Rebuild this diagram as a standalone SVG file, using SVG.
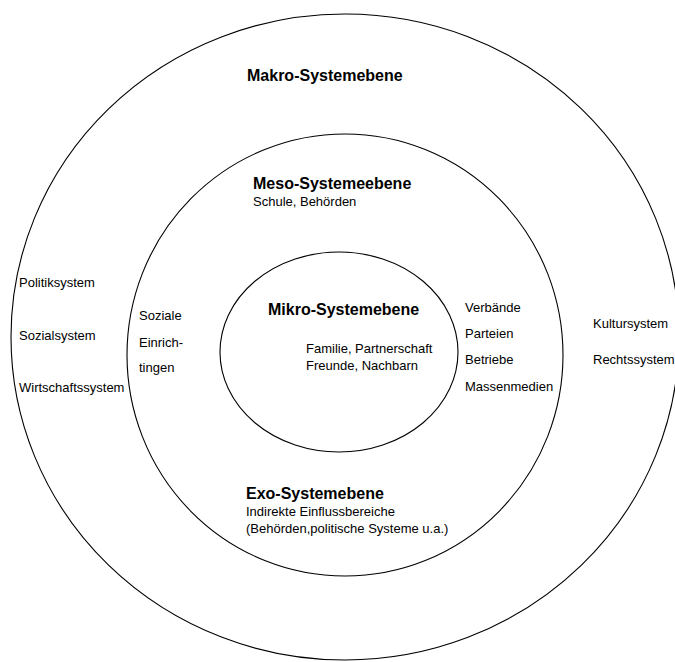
<svg xmlns="http://www.w3.org/2000/svg" width="675" height="662" viewBox="0 0 675 662">
<style>
.ring{fill:none;stroke:#000;stroke-width:1.1}
text{font-family:"Liberation Sans",Arial,sans-serif;fill:#000}
.h{font-weight:bold;font-size:16px}
.t{font-size:13px}
</style>
<rect width="675" height="662" fill="#fff"/>
<g id="makro">
<ellipse class="ring" cx="345" cy="337" rx="334" ry="323"/>
<text class="h" x="247" y="81">Makro-Systemebene</text>
<text class="t" x="19" y="287">Politiksystem</text>
<text class="t" x="19" y="340">Sozialsystem</text>
<text class="t" x="19" y="392">Wirtschaftssystem</text>
<text class="t" x="593" y="328">Kultursystem</text>
<text class="t" x="593" y="364">Rechtssystem</text>
</g>
<g id="meso">
<ellipse class="ring" cx="345" cy="355" rx="218" ry="221"/>
<text class="h" x="253" y="189">Meso-Systemeebene</text>
<text class="t" x="253" y="206">Schule, Behörden</text>
<text class="t" x="139" y="320">Soziale</text>
<text class="t" x="139" y="347">Einrich-</text>
<text class="t" x="139" y="372">tingen</text>
<text class="t" x="465" y="312">Verbände</text>
<text class="t" x="465" y="338">Parteien</text>
<text class="t" x="465" y="364">Betriebe</text>
<text class="t" x="465" y="391">Massenmedien</text>
</g>
<g id="mikro">
<ellipse class="ring" cx="339" cy="352" rx="119" ry="100"/>
<text class="h" x="268" y="315">Mikro-Systemebene</text>
<text class="t" x="306" y="353">Familie, Partnerschaft</text>
<text class="t" x="306" y="370">Freunde, Nachbarn</text>
</g>
<g id="exo">
<text class="h" x="246" y="499">Exo-Systemebene</text>
<text class="t" x="246" y="516">Indirekte Einflussbereiche</text>
<text class="t" x="246" y="533">(Behörden,politische Systeme u.a.)</text>
</g>
<g id="connectors"/>
</svg>
